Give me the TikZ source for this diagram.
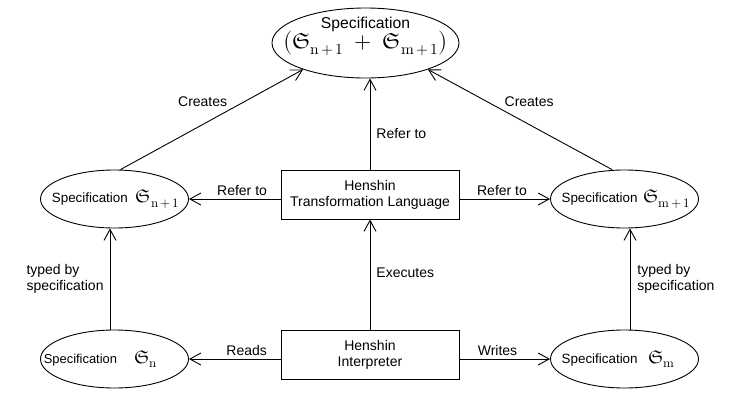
\documentclass[tikz,border=0pt]{standalone}
\usepackage{amsmath}
\usepackage{unicode-math}
\setmainfont{Liberation Sans}
\setmathfont{Latin Modern Math}
\usetikzlibrary{shapes.geometric,arrows.meta}
\newcommand{\mathfs}{\fontsize{18.5}{18}\selectfont}
\newcommand{\subsp}{\mskip2.5mu}
\begin{document}
\begin{tikzpicture}[x=1pt,y=-1pt,
  spec/.style={ellipse,draw,line width=0.9pt,minimum width=148pt,minimum height=58pt,inner sep=0pt,font=\fontsize{13.4}{16}\selectfont},
  topspec/.style={ellipse,draw,line width=0.9pt,minimum width=187pt,minimum height=70pt,inner xsep=0pt,inner ysep=-1.5pt},
  boxnode/.style={rectangle,draw,line width=0.9pt,minimum width=178pt,minimum height=49pt,inner sep=0pt,align=center,font=\fontsize{14}{16}\selectfont},
  conn/.style={line width=0.9pt,-{Straight Barb[length=11pt,width=12pt,line width=0.9pt]}},
  lbl/.style={inner sep=0pt,font=\fontsize{14}{16}\selectfont},
]
\fill[white] (0,0) rectangle (750,410);
\useasboundingbox (0,0) rectangle (750,410);

\node[topspec] (top) at (365.5,43) {\vbox{\baselineskip=20pt\lineskiplimit=-100pt\lineskip=0pt
  \hbox to 120pt{\hss\fontsize{15.7}{18}\selectfont Specification\hss}
  \hbox to 120pt{\hss\fontsize{22}{22}\selectfont$\bigl(\mathfrak{S}_{\symup{n}\subsp+\subsp1} \;+\; \mathfrak{S}_{\symup{m}\subsp+\subsp1}\bigr)$\hss}\kern12pt}};

\node[spec] (lm) at (114.5,199) {\hbox to 90pt{\hspace{2pt}\hss Specification\hspace{8pt}{\mathfs$\mathfrak{S}_{\symup{n}\subsp+\subsp1}$}\hss}};
\node[spec] (rm) at (624.5,199) {\hbox to 90pt{\hspace{3pt}\hss Specification\hspace{6pt}{\mathfs$\mathfrak{S}_{\symup{m}\subsp+\subsp1}$}\hss}};
\node[spec] (bl) at (114.5,359) {\hbox to 90pt{\hss\fontsize{12.9}{16}\selectfont Specification\hspace{17pt}{\mathfs$\mathfrak{S}_{\symup{n}}$}\hss\hspace{28pt}}};
\node[spec] (br) at (624.5,359) {\hbox to 90pt{\hss Specification\hspace{11pt}{\mathfs$\mathfrak{S}_{\symup{m}}$}\hss\hspace{12pt}}};

\node[boxnode] (tl) at (370,194.5) {Henshin\\Transformation Language};
\node[boxnode] (hi) at (370,354.5) {Henshin\\Interpreter};

\draw[conn] ([xshift=6pt]lm.north) -- (top.203) node[lbl,pos=0.45,above=17pt] {Creates};
\draw[conn] ([xshift=-12.5pt]rm.north) -- (top.337) node[lbl,pos=0.45,above=17pt] {Creates};
\draw[conn] (tl.north) -- (top.south -| tl.north) node[lbl,pos=0.40,right=6pt] {Refer to};
\draw[conn] (hi.north) -- (tl.south) node[lbl,pos=0.52,right=6pt] {Executes};
\draw[conn] (tl.west |- lm.east) -- (lm.east) node[lbl,pos=0.42,above=2.5pt] {Refer to};
\draw[conn] (tl.east |- rm.west) -- (rm.west) node[lbl,pos=0.47,above=2.5pt] {Refer to};
\draw[conn] (hi.west |- bl.east) -- (bl.east) node[lbl,pos=0.37,above=2.5pt] {Reads};
\draw[conn] (hi.east |- br.west) -- (br.west) node[lbl,pos=0.42,above=2.5pt] {Writes};
\draw[conn] ([xshift=-4.5pt]bl.north) -- ([xshift=-4.5pt]lm.south) node[lbl,midway,left=6pt,align=left] {typed by\\specification};
\draw[conn] ([xshift=5.5pt]br.north) -- ([xshift=5.5pt]rm.south) node[lbl,midway,right=7pt,align=left] {typed by\\specification};
\end{tikzpicture}
\end{document}
